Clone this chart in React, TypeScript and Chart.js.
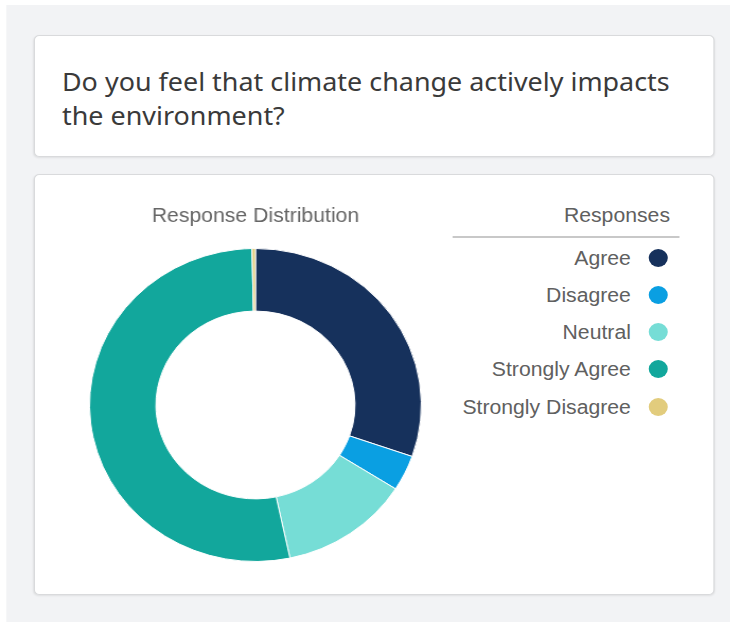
import React, { useEffect, useRef } from "react";
import { Chart, registerables } from "chart.js";

Chart.register(...registerables);

const categories = ["Agree", "Disagree", "Neutral", "Strongly Agree", "Strongly Disagree"];
const responseCounts = [91, 11, 38, 159, 1];
const sliceColors = ["#16315c", "#0a9fe2", "#76ddd6", "#12a79c", "#e2cc7d"];
const questionText = "Do you feel that climate change actively impacts the environment?";
const chartTitle = "Response Distribution";
const legendTitle = "Responses";

const SANS = "'Liberation Sans', Arial, Helvetica, sans-serif";
// the reference screenshot is slightly stretched horizontally
const STRETCH = 1.06;
const X = (v: number) => v / STRETCH;

function DonutChart() {
  const ref = useRef<HTMLCanvasElement | null>(null);
  useEffect(() => {
    if (!ref.current) return;
    const chart = new Chart(ref.current, {
      type: "doughnut",
      data: {
        labels: categories,
        datasets: [
          {
            data: responseCounts,
            backgroundColor: sliceColors,
            borderColor: "#ffffff",
            borderWidth: 1,
          },
        ],
      },
      options: {
        animation: false,
        responsive: false,
        maintainAspectRatio: false,
        cutout: "60%",
        layout: { padding: 0 },
        plugins: {
          legend: { display: false },
          tooltip: { enabled: false },
          title: {
            display: true,
            text: chartTitle,
            color: "#666666",
            font: { family: SANS, size: 20, weight: "normal" },
            padding: { top: 4, bottom: 20 },
          },
        },
      },
    });
    return () => chart.destroy();
  }, []);
  return (
    <canvas
      ref={ref}
      width={340}
      height={362}
      style={{ position: "absolute", left: X(255) - 170, top: 200, width: 340, height: 362 }}
    />
  );
}

export default function App() {
  const legendLeft = X(453);
  const legendWidth = X(679) - X(453);
  const itemCenters = [258, 295, 332, 369, 407];
  return (
    <div
      style={{
        position: "fixed",
        left: 0,
        top: 0,
        width: 730,
        height: 622,
        background: "#ffffff",
        overflow: "hidden",
      }}
    >
      <div
        style={{
          position: "absolute",
          left: 0,
          top: 0,
          width: X(730),
          height: 622,
          transform: `scaleX(${STRETCH})`,
          transformOrigin: "0 0",
        }}
      >
        <div
          style={{
            position: "absolute",
            left: X(6),
            top: 5,
            width: X(730),
            height: 622,
            background: "#f2f3f5",
          }}
        />
        <div
          style={{
            position: "absolute",
            left: X(34),
            top: 35,
            width: X(680) - 2,
            height: 120,
            background: "#ffffff",
            border: "1px solid #d9dadc",
            borderRadius: 5,
            boxShadow: "0 1px 2px rgba(0,0,0,0.08)",
          }}
        >
          <div
            style={{
              position: "absolute",
              left: X(62) - X(34) - 1,
              top: 28,
              width: 596,
              fontFamily: "'Noto Sans', 'Open Sans', sans-serif",
              fontSize: 25.4,
              lineHeight: "34px",
              color: "#3a3a3a",
            }}
          >
            {questionText}
          </div>
        </div>
        <div
          style={{
            position: "absolute",
            left: X(34),
            top: 174,
            width: X(680) - 2,
            height: 419,
            background: "#ffffff",
            border: "1px solid #d9dadc",
            borderRadius: 5,
            boxShadow: "0 1px 2px rgba(0,0,0,0.08)",
          }}
        />
        <DonutChart />
        <div
          style={{
            position: "absolute",
            left: legendLeft,
            top: 202,
            width: legendWidth,
            textAlign: "right",
            paddingRight: X(9),
            boxSizing: "border-box",
            fontFamily: SANS,
            fontSize: 20,
            lineHeight: "26px",
            color: "#606060",
          }}
        >
          {legendTitle}
        </div>
        <div
          style={{
            position: "absolute",
            left: legendLeft,
            top: 236,
            width: legendWidth,
            height: 2,
            background: "#c8c8c8",
          }}
        />
        {categories.map((c, i) => (
          <div
            key={c}
            style={{
              position: "absolute",
              left: legendLeft,
              top: itemCenters[i] - 15,
              width: legendWidth,
              height: 30,
              display: "flex",
              justifyContent: "flex-end",
              alignItems: "center",
              paddingRight: X(11),
              boxSizing: "border-box",
              fontFamily: SANS,
              fontSize: 20,
              color: "#606060",
            }}
          >
            <span>{c}</span>
            <span
              style={{
                display: "inline-block",
                width: 18,
                height: 18,
                borderRadius: "50%",
                background: sliceColors[i],
                marginLeft: X(18),
              }}
            />
          </div>
        ))}
      </div>
    </div>
  );
}
